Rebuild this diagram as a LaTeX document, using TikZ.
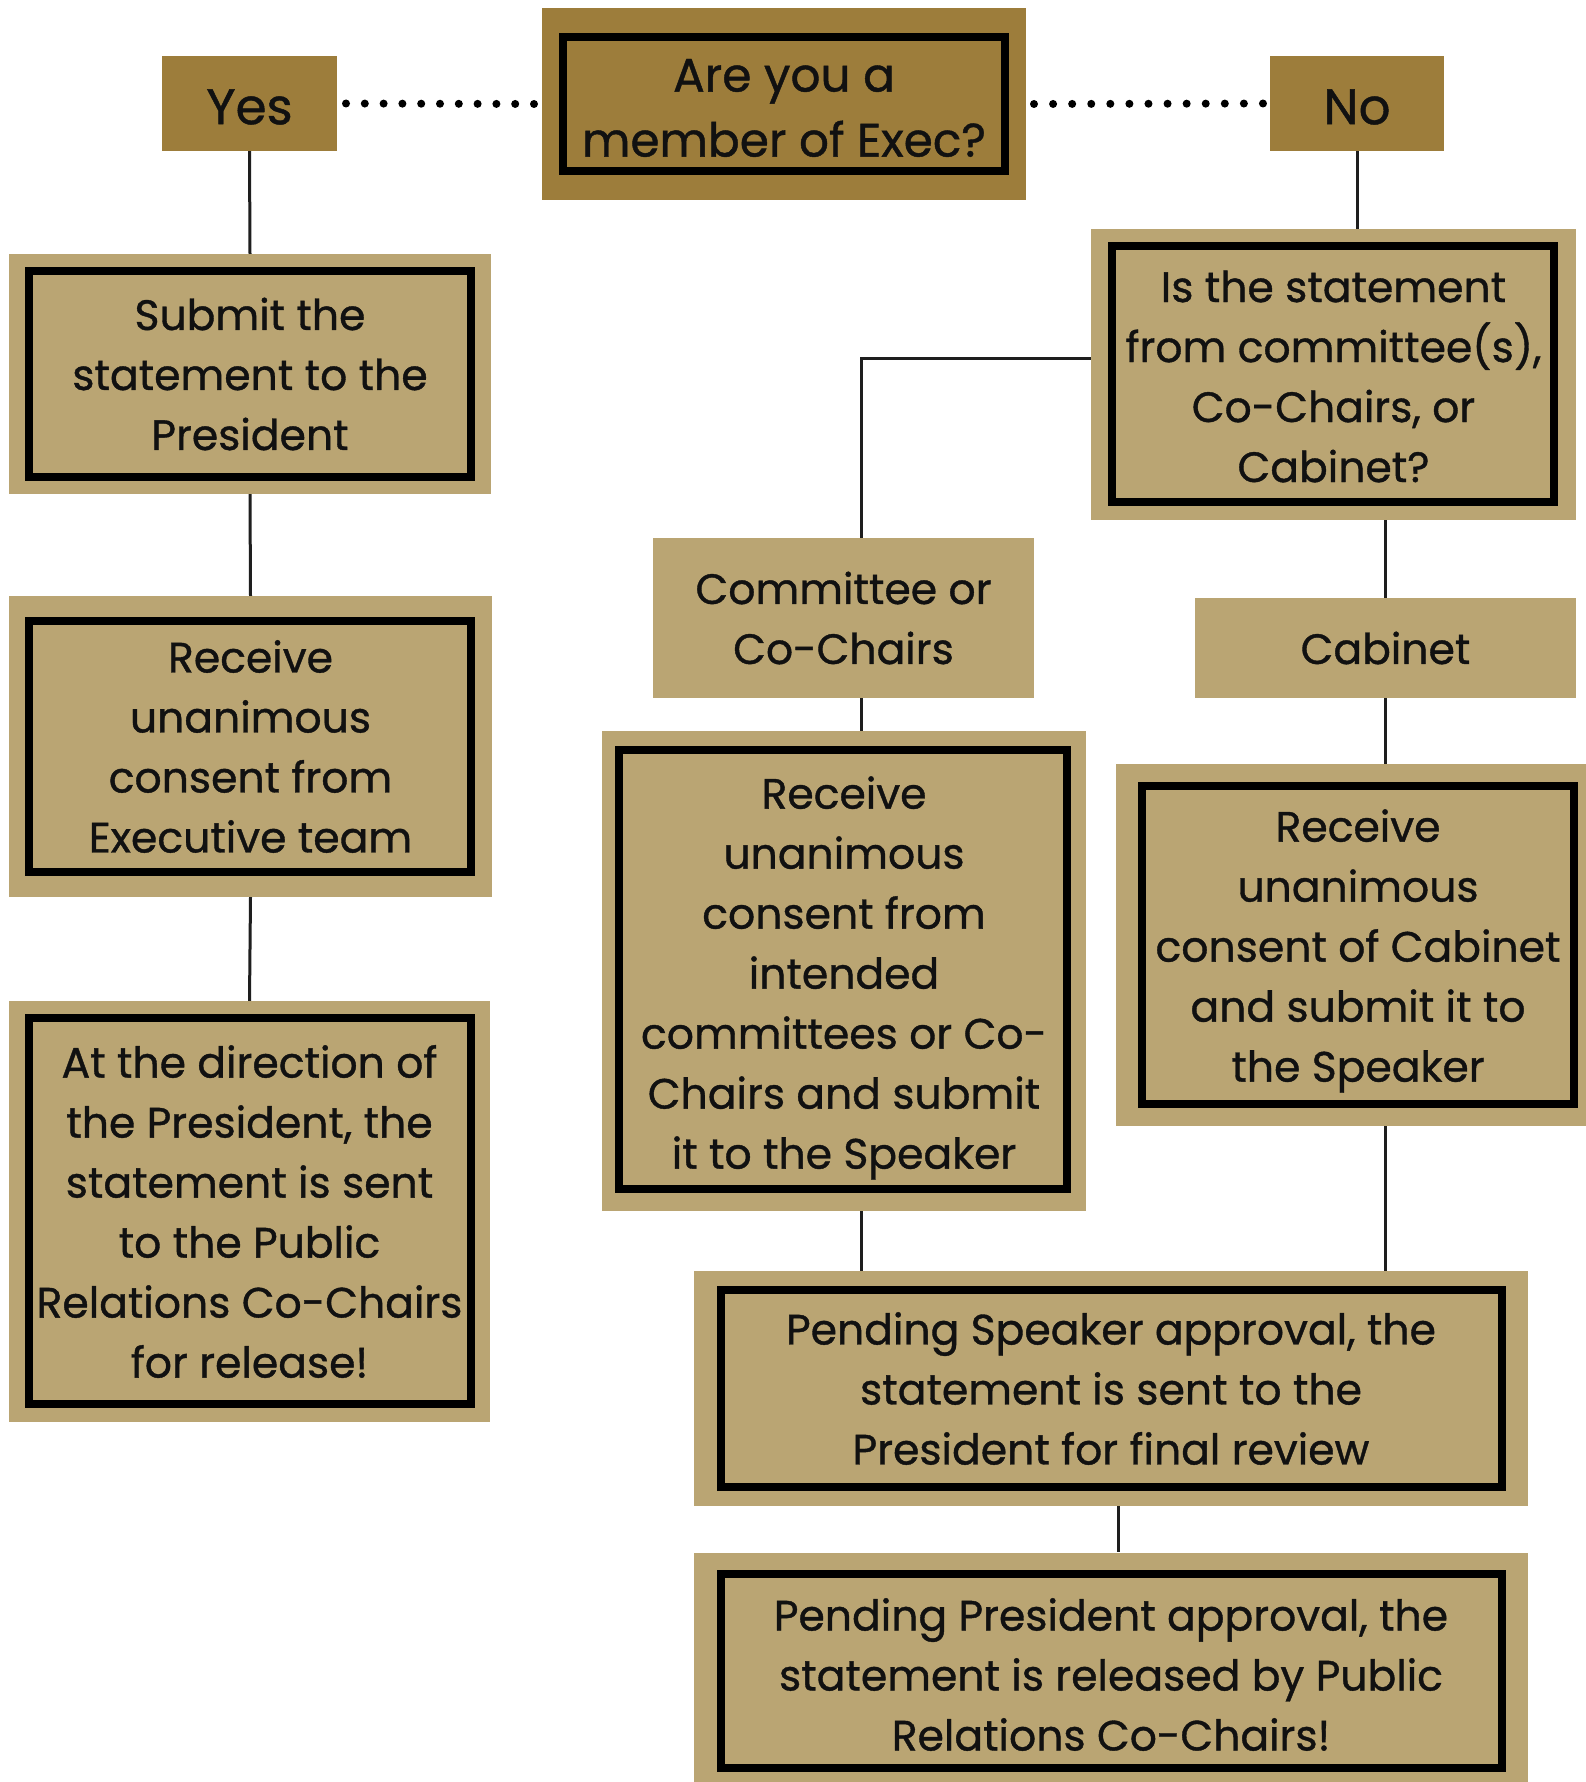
\documentclass[tikz,border=0pt]{standalone}
\usepackage{fontspec}
\setmainfont{Poppins}
\newfontfamily\boxfont{Poppins}[FakeBold=0.9]
\definecolor{gdark}{RGB}{157,125,59}
\definecolor{glight}{RGB}{186,165,115}
\definecolor{txt}{RGB}{17,17,17}
\definecolor{linec}{RGB}{30,30,30}
\newcommand{\lowered}[2]{\raisebox{-#1}[\height][\depth]{#2}}
\begin{document}
\begin{tikzpicture}[x=1pt,y=-1pt,
  dark/.style={fill=gdark, draw=none, inner sep=0pt, text=txt},
  light/.style={fill=glight, draw=none, inner sep=0pt, text=txt},
  frame/.style={draw=black, line width=8pt},
  link/.style={draw=linec, line width=3pt},
  dotsL/.style={draw=black, line width=8pt, line cap=round, dash pattern=on 0pt off 18.8pt},
  dotsR/.style={draw=black, line width=8pt, line cap=round, dash pattern=on 0pt off 19.08pt},
  body/.style={font=\boxfont\fontsize{42.5}{60}\selectfont, align=center},
  big/.style={font=\boxfont\fontsize{47}{65}\selectfont, align=center},
  huge/.style={font=\boxfont\fontsize{50}{60}\selectfont, align=center}
]
\clip (0,0) rectangle (1586,1782);
\fill[white] (0,0) rectangle (1586,1782);

% top row
\node[dark, huge, minimum width=175pt, minimum height=95pt] (yes) at (249.5,103.5) {\lowered{3.5pt}{Yes}};
\node[dark, huge, minimum width=174pt, minimum height=95pt] (no) at (1357,103.5) {\lowered{3.5pt}{No}};
\node[dark, big, minimum width=484pt, minimum height=192pt] (q) at (784,104) {\lowered{4pt}{\parbox{470pt}{\centering Are you a\\member of Exec?}}};
\draw[frame] (563,37) rectangle (1005,171);

% left column
\node[light, body, minimum width=482pt, minimum height=240pt] (submit) at (250,374) {Submit the\\statement to the\\President};
\draw[frame] (29,271) rectangle (471,477);
\node[light, body, minimum width=483pt, minimum height=301pt] (recexec) at (250.5,746.5) {Receive\\unanimous\\consent from\\Executive team};
\draw[frame] (29,621) rectangle (471,872);
\node[light, body, minimum width=481pt, minimum height=421pt] (direction) at (249.5,1211.5) {At the direction of\\the President, the\\statement is sent\\to the Public\\Relations Co-Chairs\\for release!};
\draw[frame] (29,1018) rectangle (471,1404);

% right side
\node[light, body, minimum width=485pt, minimum height=291pt] (isstmt) at (1333.5,374.5) {\lowered{2pt}{\parbox{470pt}{\centering Is the statement\\from committee(s),\\Co-Chairs, or\\Cabinet?}}};
\draw[frame] (1112,246) rectangle (1554,502);
\node[light, body, minimum width=381pt, minimum height=160pt] (committee) at (843.5,618) {Committee or\\Co-Chairs};
\node[light, body, minimum width=381pt, minimum height=100pt] (cabinet) at (1385.5,648) {Cabinet};
\node[light, body, minimum width=484pt, minimum height=480pt] (reccom) at (844,971) {\lowered{7pt}{\parbox{470pt}{\centering Receive\\unanimous\\consent from\\intended\\committees or Co-\\Chairs and submit\\it to the Speaker}}};
\draw[frame] (619,750) rectangle (1067,1189);
\node[light, body, minimum width=484pt, minimum height=362pt] (reccab) at (1358,945) {\lowered{6pt}{\parbox{430pt}{\centering Receive\\unanimous\\consent of Cabinet\\and submit it to\\the Speaker}}};
\draw[frame] (1142,786) rectangle (1574,1104);
\node[light, body, minimum width=834pt, minimum height=235pt] (pendspk) at (1111,1388.5) {Pending Speaker approval, the\\statement is sent to the\\President for final review};
\draw[frame] (721,1290) rectangle (1502,1487);
\node[light, body, minimum width=834pt, minimum height=244pt] (pendpres) at (1111,1674.5) {Pending President approval, the\\statement is released by Public\\Relations Co-Chairs!};
\draw[frame] (721,1574) rectangle (1502,1768);

% connectors
\coordinate (dl1) at (346,103.5);
\coordinate (dl2) at (534,103.5);
\coordinate (dr1) at (1034,103.5);
\coordinate (dr2) at (1263,103.5);
\draw[dotsL] (yes.east -| dl1) -- (q.west -| dl2);
\draw[dotsR] (q.east -| dr1) -- (no.west -| dr2);
\draw[link] (yes.south) -- (submit.north);
\draw[link] (submit.south) -- (recexec.north);
\draw[link] (recexec.south) -- (direction.north);
\draw[link] (no.south) -- (no.south |- isstmt.north);
\coordinate (br) at (861,358);
\draw[link] (isstmt.west |- br) -- (br) -- (br |- committee.north);
\draw[link] (cabinet.north |- isstmt.south) -- (cabinet.north);
\draw[link] (cabinet.south) -- (cabinet.south |- reccab.north);
\draw[link] (br |- committee.south) -- (br |- reccom.north);
\draw[link] (br |- reccom.south) -- (br |- pendspk.north);
\draw[link] (cabinet.south |- reccab.south) -- (cabinet.south |- pendspk.north);
\coordinate (mid) at (1118,0);
\draw[link] (mid |- pendspk.south) -- (mid |- pendpres.north);
\end{tikzpicture}
\end{document}
